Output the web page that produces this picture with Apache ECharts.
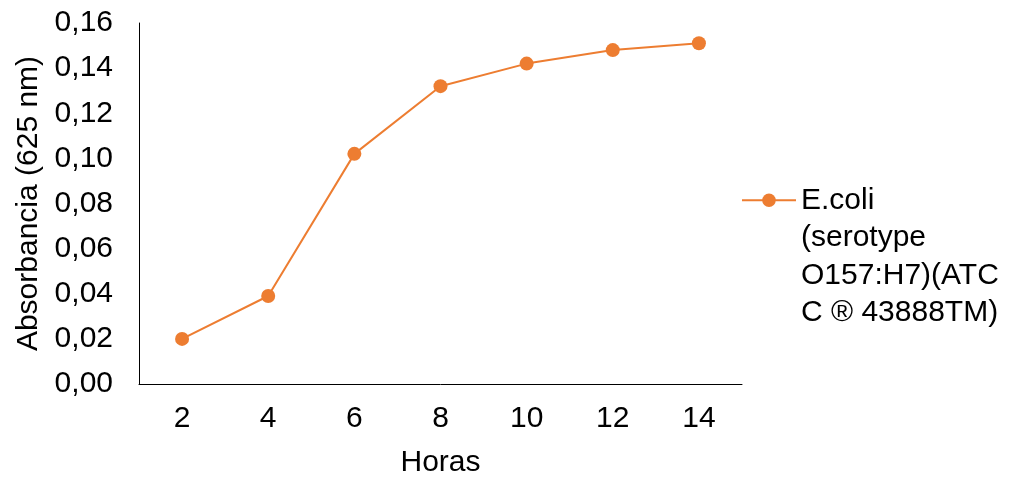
<!DOCTYPE html>
<html>
<head>
<meta charset="utf-8">
<script src="https://cdn.jsdelivr.net/npm/echarts@6/dist/echarts.min.js"></script>
<style>html,body{margin:0;padding:0;background:#fff;}#c{width:1018px;height:483px;}</style>
</head>
<body>
<div id="c"></div>
<script>
const categories = ['2', '4', '6', '8', '10', '12', '14'];
const absorbance = [0.020, 0.039, 0.102, 0.132, 0.142, 0.148, 0.151];
const seriesName = 'E.coli\n(serotype\nO157:H7)(ATC\nC ® 43888TM)';
const xAxisName = 'Horas';
const yAxisName = 'Absorbancia (625 nm)';

const FONT = 'Liberation Sans, Arial, sans-serif';
const chart = echarts.init(document.getElementById('c'), null, {renderer: 'canvas'});
chart.setOption({
  animation: false,
  backgroundColor: '#fff',
  textStyle: {fontFamily: FONT},
  grid: {left: 139, right: 276, top: 23, bottom: 98, containLabel: false},
  legend: {
    left: 741, top: 69, orient: 'vertical', padding: 0,
    itemWidth: 54, itemHeight: 17, itemGap: 5,
    formatter: name => '\n\n\n' + name,
    textStyle: {fontFamily: FONT, fontSize: 30, color: '#000', lineHeight: 37.5},
    data: [seriesName]
  },
  xAxis: {
    type: 'category', data: categories, boundaryGap: true,
    name: xAxisName, nameLocation: 'middle', nameGap: 64,
    nameTextStyle: {fontFamily: FONT, fontSize: 30, color: '#000'},
    axisLine: {lineStyle: {color: '#000', width: 1}},
    axisTick: {show: false},
    axisLabel: {fontFamily: FONT, fontSize: 30, color: '#000', margin: 20}
  },
  yAxis: {
    type: 'value', min: 0, max: 0.16, interval: 0.02,
    name: yAxisName, nameLocation: 'middle', nameGap: 93,
    nameTextStyle: {fontFamily: FONT, fontSize: 30, color: '#000'},
    axisLine: {show: true, lineStyle: {color: '#000', width: 1}},
    axisTick: {show: false},
    splitLine: {show: false},
    axisLabel: {fontFamily: FONT, fontSize: 30, color: '#000', margin: 26,
      formatter: v => v.toFixed(2).replace('.', ',')}
  },
  series: [{
    name: seriesName, type: 'line', data: absorbance,
    symbol: 'circle', symbolSize: 14,
    lineStyle: {color: '#ED7D31', width: 2},
    itemStyle: {color: '#ED7D31'}
  }]
});
</script>
</body>
</html>
